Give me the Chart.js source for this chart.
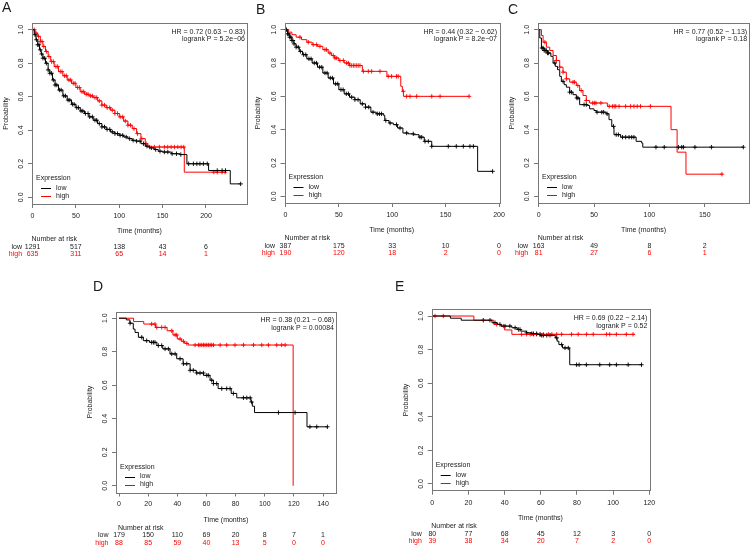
<!DOCTYPE html>
<html>
<head>
<meta charset="utf-8">
<script src="https://cdn.jsdelivr.net/npm/chart.js@4.4.1/dist/chart.umd.min.js"></script>
<style>
  body { margin: 0; background: #fff; }
  #wrap { position: relative; width: 754px; height: 548px; overflow: hidden; background: #fff; }
  #wrap canvas { position: absolute; }
</style>
</head>
<body>
<div id="wrap">
  <canvas id="cA"></canvas>
  <canvas id="cB"></canvas>
  <canvas id="cC"></canvas>
  <canvas id="cD"></canvas>
  <canvas id="cE"></canvas>
</div>
<script>
// ---- panel A ----
var aLowT  = [0, 2, 4, 6, 8, 10, 12, 15, 18, 20, 23, 26, 30, 35, 40, 45, 50, 55, 60, 65, 70, 75, 80, 85, 90, 95, 100, 105, 110, 115, 120, 125, 130, 135, 140, 145, 150, 160, 170, 178, 203, 228, 240];
var aLowS  = [1, 0.97, 0.94, 0.91, 0.88, 0.855, 0.83, 0.80, 0.76, 0.74, 0.70, 0.67, 0.64, 0.605, 0.58, 0.555, 0.535, 0.515, 0.50, 0.48, 0.46, 0.44, 0.42, 0.405, 0.39, 0.38, 0.37, 0.36, 0.35, 0.34, 0.335, 0.32, 0.305, 0.295, 0.285, 0.275, 0.27, 0.26, 0.255, 0.20, 0.16, 0.08, 0.08];
var aHighT = [0, 3, 6, 9, 12, 15, 18, 21, 25, 30, 35, 40, 45, 50, 55, 60, 65, 70, 75, 80, 85, 90, 95, 100, 105, 110, 115, 120, 125, 130, 133, 175, 222];
var aHighS = [1, 0.98, 0.96, 0.93, 0.90, 0.87, 0.84, 0.81, 0.78, 0.75, 0.725, 0.70, 0.68, 0.655, 0.63, 0.615, 0.605, 0.595, 0.575, 0.55, 0.535, 0.52, 0.50, 0.48, 0.455, 0.43, 0.41, 0.38, 0.35, 0.32, 0.30, 0.15, 0.15];
var aLowCens  = [3, 4.5, 6, 7.5, 9, 10.5, 12, 14, 16, 18, 20, 22, 24, 26, 28, 31, 33, 36, 38, 41, 43, 46, 48, 51, 53, 56, 58, 61, 64, 66, 69, 72, 74, 77, 80, 83, 86, 89, 92, 95, 98, 101, 104, 108, 112, 116, 120, 124, 128, 132, 137, 142, 147, 152, 156, 161, 166, 171, 180, 185.5, 189.5, 193, 197, 201.5, 213, 218.6, 222.5, 240];
var aHighCens = [2, 4, 7, 9, 11, 13, 16, 19, 22, 24, 27, 29, 32, 34, 37, 39, 42, 44, 47, 49, 52, 54, 57, 59, 62, 64, 67, 69, 72, 74, 77, 80, 83, 86, 89, 92, 95, 98, 101, 104, 107, 110, 113, 117, 121, 126, 131, 135, 140.5, 146.3, 152, 155.9, 159.8, 163.6, 167.5, 171.3, 174.4, 209, 213, 218.6, 222];
var aRiskT = [0, 50, 100, 150, 200];
var aRiskLow = [1291, 517, 138, 43, 6];
var aRiskHigh = [635, 311, 65, 14, 1];
var aStats = ['HR = 0.72 (0.63 \u2212 0.83)', 'logrank P = 5.2e\u221206'];

// ---- panel B ----
var bLowT  = [0, 2, 4, 6, 8, 10, 13, 16, 20, 25, 30, 35, 40, 45, 50, 55, 60, 65, 70, 75, 80, 85, 92, 93, 97, 101, 105, 110, 115, 120, 125, 130, 137, 180, 194];
var bLowS  = [1, 0.975, 0.955, 0.935, 0.915, 0.895, 0.87, 0.85, 0.825, 0.80, 0.775, 0.74, 0.71, 0.675, 0.64, 0.615, 0.595, 0.58, 0.555, 0.535, 0.505, 0.495, 0.485, 0.455, 0.44, 0.43, 0.41, 0.38, 0.375, 0.37, 0.355, 0.33, 0.30, 0.15, 0.15];
var bHighT = [0, 3, 6, 10, 15, 20, 25, 30, 35, 40, 43, 46, 50, 55, 60, 72, 95, 108, 109.5, 110.5, 172];
var bHighS = [1, 0.985, 0.97, 0.955, 0.94, 0.925, 0.91, 0.90, 0.88, 0.86, 0.845, 0.83, 0.815, 0.80, 0.785, 0.75, 0.72, 0.66, 0.63, 0.60, 0.60];
var bLowCens  = [1, 2, 3, 4, 5, 6, 7, 8, 10, 12, 14, 17, 19, 22, 24, 27, 29, 32, 34, 37, 39, 42, 44, 47, 49, 52, 54, 57, 59, 62, 65, 68, 72, 75, 78, 82, 86, 88, 90, 94, 98, 104, 107.3, 113.5, 119.7, 126, 127.6, 130.7, 133.8, 137, 152.5, 160, 166.6, 172.8, 176, 194];
var bHighCens = [13.6, 21.4, 26, 29.2, 32.3, 37, 38.5, 41.7, 44.8, 46.4, 48, 51, 54.2, 57.3, 58.9, 60.4, 62, 63.6, 65.1, 66.7, 68.2, 69.8, 73, 77.6, 80.7, 88.5, 96.3, 99.4, 104, 105.6, 110.4, 113.5, 116.7, 122.9, 137, 144.8, 172];
var bRiskT = [0, 50, 100, 150, 200];
var bRiskLow = [387, 175, 33, 10, 0];
var bRiskHigh = [190, 120, 18, 2, 0];
var bStats = ['HR = 0.44 (0.32 \u2212 0.62)', 'logrank P = 8.2e\u221207'];

// ---- panel C ----
var cLowT  = [0, 1, 2.5, 5, 8, 11, 13, 15, 17, 19, 20.5, 23, 25, 28, 31, 34, 37, 44, 46, 50, 52, 61, 63.5, 66, 68, 74, 88, 93, 94, 185];
var cLowS  = [1, 0.95, 0.89, 0.875, 0.86, 0.84, 0.80, 0.78, 0.76, 0.72, 0.69, 0.67, 0.655, 0.625, 0.61, 0.59, 0.55, 0.545, 0.525, 0.515, 0.505, 0.495, 0.46, 0.42, 0.37, 0.355, 0.33, 0.32, 0.295, 0.295];
var cHighT = [0, 2.5, 4, 7, 10, 13, 16, 19, 22, 25, 28, 34, 37, 40, 43, 46, 62, 119.5, 125, 133, 166];
var cHighS = [1, 0.965, 0.925, 0.895, 0.875, 0.845, 0.815, 0.775, 0.745, 0.705, 0.685, 0.665, 0.635, 0.605, 0.575, 0.56, 0.54, 0.40, 0.265, 0.133, 0.133];
var cLowCens  = [3, 4, 5, 6, 7, 8, 9, 14.6, 22, 28, 29.6, 34.5, 35.5, 41, 43, 52.7, 57, 58.7, 61.8, 67.6, 70, 72, 75.7, 78.6, 81.6, 84, 86, 105.9, 113.4, 126.2, 129.2, 130.7, 141.1, 156, 184.8];
var cHighCens = [5.6, 16, 19, 22, 25, 31, 32.4, 35.4, 38.4, 43, 48.8, 50.3, 51.7, 56.2, 63.7, 66.6, 68.2, 69.6, 72.6, 78.5, 83, 86, 89, 92, 100.9, 165.5];
var cRiskT = [0, 50, 100, 150];
var cRiskLow = [163, 49, 8, 2];
var cRiskHigh = [81, 27, 6, 1];
var cStats = ['HR = 0.77 (0.52 \u2212 1.13)', 'logrank P = 0.18'];

// ---- panel D ----
var dLowT  = [0, 5, 7.5, 9.8, 11, 13.3, 16.7, 21, 26, 30, 35, 39.6, 44, 48.8, 53, 58, 62.5, 64.8, 68, 77, 80.8, 90.5, 91.5, 93, 129, 143];
var dLowS  = [1, 0.99, 0.97, 0.935, 0.915, 0.886, 0.866, 0.856, 0.837, 0.817, 0.787, 0.758, 0.728, 0.689, 0.673, 0.659, 0.63, 0.61, 0.58, 0.551, 0.525, 0.50, 0.475, 0.437, 0.352, 0.352];
var dHighT = [0, 10, 17, 25, 33, 37, 40, 43, 45, 47.5, 119.5];
var dHighS = [1, 0.98, 0.965, 0.945, 0.925, 0.90, 0.876, 0.862, 0.85, 0.84, 0];
var dLowCens  = [7.6, 15.6, 19, 22.4, 23.6, 24.7, 27, 29.3, 31.6, 33.9, 36.2, 38.5, 41.9, 44.2, 46.5, 48.8, 51, 53.4, 55.6, 57.9, 60.2, 61.3, 63.6, 64.8, 67, 70.5, 73.9, 76.2, 78.5, 85.4, 87.7, 90, 91, 109.4, 120.8, 131, 135.7, 143];
var dHighCens = [22.4, 24.7, 25.9, 29.3, 31.6, 36.2, 38.5, 39.6, 41.9, 44.2, 46.5, 52.2, 54.5, 55.6, 56.8, 57.9, 59, 60.2, 61.3, 62.5, 63.6, 64.8, 69.4, 73.9, 79.6, 85.4, 92.3, 98, 102.5, 108.2, 111.6, 114];
var dRiskT = [0, 20, 40, 60, 80, 100, 120, 140];
var dRiskLow = [179, 150, 110, 69, 20, 8, 7, 1];
var dRiskHigh = [88, 85, 59, 40, 13, 5, 0, 0];
var dStats = ['HR = 0.38 (0.21 \u2212 0.68)', 'logrank P = 0.00084'];

// ---- panel E ----
var eLowT  = [0, 10, 16, 33, 36, 38, 44, 47, 49, 52, 55, 58, 60, 68, 69, 70, 72, 76, 116];
var eLowS  = [1, 0.987, 0.975, 0.96, 0.95, 0.94, 0.93, 0.92, 0.91, 0.90, 0.895, 0.89, 0.885, 0.87, 0.85, 0.83, 0.81, 0.71, 0.71];
var eHighT = [0, 23, 34, 38, 40, 44, 112];
var eHighS = [1, 0.975, 0.95, 0.94, 0.917, 0.891, 0.891];
var eLowCens  = [28.2, 31.9, 34.7, 37.4, 40.2, 42.9, 45.8, 47.6, 48.5, 52.2, 55, 55.9, 57.7, 59.6, 60.5, 61.4, 63.3, 65.1, 68.8, 71.5, 73.4, 75.2, 79.8, 81.2, 85.2, 92.6, 98.1, 101.8, 108.3, 115.7];
var eHighCens = [1.5, 6.1, 35.6, 39.3, 49.4, 52.2, 54.1, 55.9, 57.7, 59.6, 61.4, 64.2, 66.1, 68.8, 71.5, 77, 80.7, 85.3, 89, 96.4, 98.1, 101.8, 107.3, 111];
var eRiskT = [0, 20, 40, 60, 80, 100, 120];
var eRiskLow = [80, 77, 68, 45, 12, 3, 0];
var eRiskHigh = [39, 38, 34, 20, 7, 2, 0];
var eStats = ['HR = 0.69 (0.22 \u2212 2.14)', 'logrank P = 0.52'];

var yTicks = [0, 0.2, 0.4, 0.6, 0.8, 1.0];
var groupNames = ['low', 'high'];

// ---- styling ----
var FONT = '"Liberation Sans", Arial, Helvetica, sans-serif';
var LOW_COL = '#000000';
var HIGH_COL = '#ff0000';
var AXIS_COL = '#777777';
var TXT_COL = '#1a1a1a';
var FS = 7;
var LH = FS * 1.2;

function stepAt(T, S, t) {
  var v = S[0];
  for (var i = 0; i < T.length; i++) { if (T[i] <= t) v = S[i]; }
  return v;
}
function kmPoints(T, S) { return T.map(function (t, i) { return {x: t, y: S[i]}; }); }
function censPoints(T, S, C) { return C.map(function (t) { return {x: t, y: stepAt(T, S, t)}; }); }

var panels = [
  {id: 'cA', letter: 'A', letterAt: [2, 12], canvas: [0, 0, 252, 262], box: [32, 23, 247, 204], xr: [-0.6, 247.3], xTicks: [0, 50, 100, 150, 200],
   low: [aLowT, aLowS, aLowCens], high: [aHighT, aHighS, aHighCens], riskT: aRiskT, riskLow: aRiskLow, riskHigh: aRiskHigh, stats: aStats},
  {id: 'cB', letter: 'B', letterAt: [256, 14], canvas: [252, 0, 256, 262], box: [284.5, 23, 499, 203], xr: [-0.9, 200], xTicks: [0, 50, 100, 150, 200],
   low: [bLowT, bLowS, bLowCens], high: [bHighT, bHighS, bHighCens], riskT: bRiskT, riskLow: bRiskLow, riskHigh: bRiskHigh, stats: bStats},
  {id: 'cC', letter: 'C', letterAt: [508, 14], canvas: [502, 0, 252, 262], box: [538, 23, 751.5, 203], xr: [-0.6, 190], xTicks: [0, 50, 100, 150],
   low: [cLowT, cLowS, cLowCens], high: [cHighT, cHighS, cHighCens], riskT: cRiskT, riskLow: cRiskLow, riskHigh: cRiskHigh, stats: cStats},
  {id: 'cD', letter: 'D', letterAt: [93, 291], canvas: [80, 270, 262, 278], box: [116, 311.5, 336, 492.5], xr: [-2.06, 148.9], xTicks: [0, 20, 40, 60, 80, 100, 120, 140],
   low: [dLowT, dLowS, dLowCens], high: [dHighT, dHighS, dHighCens], riskT: dRiskT, riskLow: dRiskLow, riskHigh: dRiskHigh, stats: dStats},
  {id: 'cE', letter: 'E', letterAt: [395, 291], canvas: [380, 270, 374, 278], box: [431.7, 309.3, 649.3, 490.7], xr: [-0.33, 120], xTicks: [0, 20, 40, 60, 80, 100, 120],
   low: [eLowT, eLowS, eLowCens], high: [eHighT, eHighS, eHighCens], riskT: eRiskT, riskLow: eRiskLow, riskHigh: eRiskHigh, stats: eStats}
];

function decorPlugin(p) {
  return {
    id: 'decor' + p.letter,
    afterDraw: function (chart) {
      var ctx = chart.ctx, a = chart.chartArea, xs = chart.scales.x;
      var ox = p.canvas[0], oy = p.canvas[1];
      ctx.save();
      // frame around plot
      ctx.strokeStyle = AXIS_COL;
      ctx.lineWidth = 1;
      ctx.strokeRect(Math.round(a.left) + 0.5, Math.round(a.top) + 0.5, Math.round(a.right - a.left), Math.round(a.bottom - a.top));

      // panel letter
      ctx.fillStyle = TXT_COL;
      ctx.font = '14px ' + FONT;
      ctx.textAlign = 'left';
      ctx.textBaseline = 'alphabetic';
      ctx.fillText(p.letter, p.letterAt[0] - ox, p.letterAt[1] - oy);

      // hazard ratio text
      ctx.font = FS + 'px ' + FONT;
      ctx.textAlign = 'right';
      ctx.textBaseline = 'middle';
      ctx.fillText(p.stats[0], a.right - 2, a.top + 9);
      ctx.fillText(p.stats[1], a.right - 2, a.top + 16.3);

      // legend
      ctx.textAlign = 'left';
      ctx.fillText('Expression', a.left + 4, a.bottom - 25.5);
      [LOW_COL, HIGH_COL].forEach(function (col, i) {
        var y = a.bottom - 16 + i * 8;
        ctx.strokeStyle = col;
        ctx.beginPath();
        ctx.moveTo(a.left + 9, Math.round(y) + 0.5);
        ctx.lineTo(a.left + 19, Math.round(y) + 0.5);
        ctx.stroke();
        ctx.fillStyle = TXT_COL;
        ctx.fillText(groupNames[i], a.left + 24, y);
      });

      // number at risk table
      var x0 = xs.getPixelForValue(0);
      ctx.fillStyle = TXT_COL;
      ctx.textAlign = 'left';
      ctx.fillText('Number at risk', x0 - 1, a.bottom + 35.5);
      var rows = [[p.riskLow, TXT_COL], [p.riskHigh, HIGH_COL]];
      rows.forEach(function (row, i) {
        var y = a.bottom + 43 + i * 7.3;
        ctx.fillStyle = row[1];
        ctx.textAlign = 'right';
        ctx.fillText(groupNames[i], x0 - 10.5, y);
        ctx.textAlign = 'center';
        p.riskT.forEach(function (t, j) {
          ctx.fillText(String(row[0][j]), xs.getPixelForValue(t), y);
        });
      });
      ctx.restore();
    }
  };
}

panels.forEach(function (p) {
  var cv = document.getElementById(p.id);
  var cx = p.canvas[0], cy = p.canvas[1], cw = p.canvas[2], ch = p.canvas[3];
  cv.style.left = cx + 'px';
  cv.style.top = cy + 'px';
  cv.width = cw; cv.height = ch;
  cv.style.width = cw + 'px'; cv.style.height = ch + 'px';

  var L = p.box[0] - cx, T = p.box[1] - cy, R = p.box[2] - cx, B = p.box[3] - cy;
  var yTitleX = L - 26;
  var padL = yTitleX - LH / 2;
  var yW = L - padL;
  var xTitleY = B + 27.5;
  var xAxisBottom = xTitleY + LH / 2;
  var xH = xAxisBottom - B;
  var padB = ch - xAxisBottom;

  var tickGrid = {display: true, drawOnChartArea: false, drawTicks: true, tickLength: 4, color: AXIS_COL, lineWidth: 1};
  var tickFont = {family: FONT, size: FS};

  new Chart(cv, {
    type: 'scatter',
    data: {
      datasets: [
        {label: 'low', data: kmPoints(p.low[0], p.low[1]), showLine: true, stepped: true, borderColor: LOW_COL, borderWidth: 1, pointRadius: 0, fill: false},
        {label: 'high', data: kmPoints(p.high[0], p.high[1]), showLine: true, stepped: true, borderColor: HIGH_COL, borderWidth: 1, pointRadius: 0, fill: false},
        {label: 'low censored', data: censPoints(p.low[0], p.low[1], p.low[2]), showLine: false, pointStyle: 'cross', pointRadius: 2.2, borderColor: LOW_COL, borderWidth: 0.9},
        {label: 'high censored', data: censPoints(p.high[0], p.high[1], p.high[2]), showLine: false, pointStyle: 'cross', pointRadius: 2.2, borderColor: HIGH_COL, borderWidth: 0.9}
      ]
    },
    options: {
      responsive: false,
      animation: false,
      devicePixelRatio: 1,
      events: [],
      layout: {padding: {left: padL, top: T, right: cw - R, bottom: padB}},
      plugins: {legend: {display: false}, tooltip: {enabled: false}},
      scales: {
        x: {
          type: 'linear', min: p.xr[0], max: p.xr[1],
          afterBuildTicks: function (ax) { ax.ticks = p.xTicks.map(function (v) { return {value: v}; }); },
          afterFit: function (ax) { ax.height = xH; ax.paddingLeft = 0; ax.paddingRight = 0; },
          grid: tickGrid,
          border: {display: false},
          ticks: {font: tickFont, color: TXT_COL, padding: 3.8, maxRotation: 0, autoSkip: false, callback: function (v) { return String(v); }},
          title: {display: true, text: 'Time (months)', font: tickFont, color: TXT_COL, padding: 0}
        },
        y: {
          type: 'linear', min: -0.04, max: 1.04,
          afterBuildTicks: function (ax) { ax.ticks = yTicks.map(function (v) { return {value: v}; }); },
          afterFit: function (ax) { ax.width = yW; ax.paddingTop = 0; ax.paddingBottom = 0; },
          grid: tickGrid,
          border: {display: false},
          ticks: {font: tickFont, color: TXT_COL, padding: 1.6, minRotation: 90, maxRotation: 90, crossAlign: 'center', autoSkip: false, callback: function (v) { return v.toFixed(1); }},
          title: {display: true, text: 'Probability', font: tickFont, color: TXT_COL, padding: 0}
        }
      }
    },
    plugins: [decorPlugin(p)]
  });
});
</script>
</body>
</html>
